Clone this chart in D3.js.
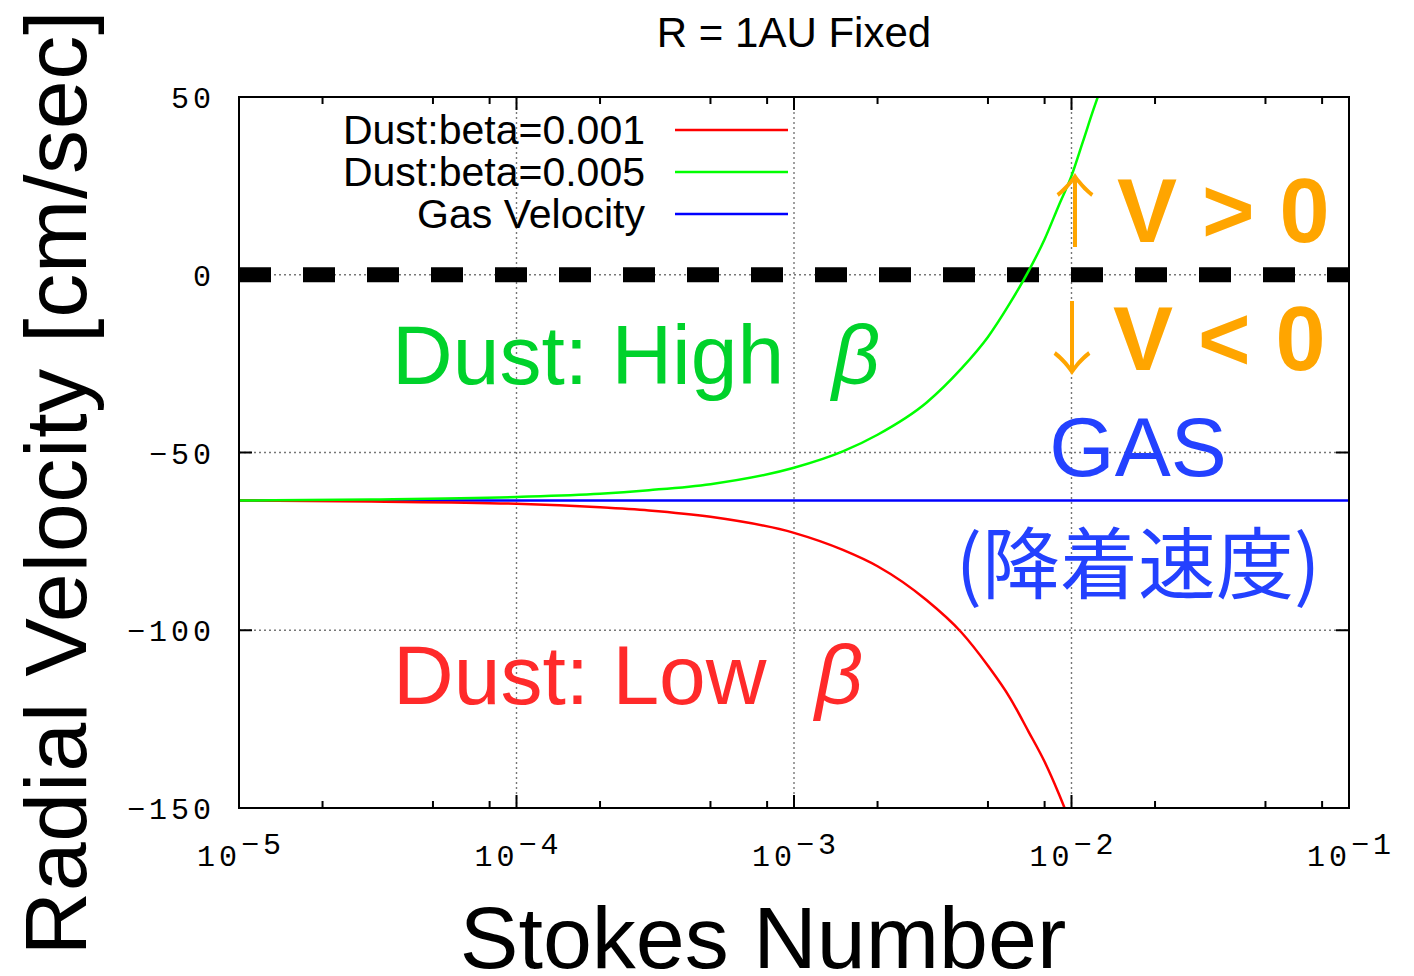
<!DOCTYPE html>
<html>
<head>
<meta charset="utf-8">
<script src="https://cdn.jsdelivr.net/npm/d3@7"></script>
<style>
  body { margin: 0; background: #fff; }
  text { font-family: "Liberation Sans", Arial, sans-serif; }
  .tick-label { font-family: "Liberation Mono", monospace; font-size: 30px; letter-spacing: 4px; fill: #000; }
</style>
</head>
<body>
<div class="chart-box"></div>
<script>
// values (Stokes number vs radial velocity, cm/sec)
var stGreen = [1e-5, 3e-5, 1e-4, 2e-4, 3e-4, 5e-4, 1e-3, 1.5e-3, 2e-3, 3e-3, 4e-3, 5e-3, 6e-3, 7e-3, 8e-3, 9e-3, 1e-2, 1.1e-2, 1.2e-2, 1.25e-2]
var vGreen = [-63.5, -63.2, -62.5, -61.6, -60.6, -58.9, -54.3, -49.7, -45, -36, -26.5, -17.5, -8, 1, 10, 19.5, 27.8, 37.5, 46.5, 50.5]

var stRed = [1e-5, 3e-5, 1e-4, 2e-4, 3e-4, 5e-4, 1e-3, 1.5e-3, 2e-3, 3e-3, 4e-3, 5e-3, 6e-3, 7e-3, 8e-3, 9e-3, 9.5e-3]
var vRed = [-63.5, -63.8, -64.4, -65.4, -66.3, -68.1, -72.6, -77.4, -82, -91.5, -100.5, -110, -119, -128.5, -137, -146, -150.5]

var gasVelocity = -63.5

var xMajor = [1e-5, 1e-4, 1e-3, 1e-2, 1e-1]
var xExponents = ['-5', '-4', '-3', '-2', '-1']
var xMinorMult = [2, 5, 8]
var yTicks = [50, 0, -50, -100, -150]
var yGrid = [0, -50, -100]
var xGrid = [1e-4, 1e-3, 1e-2]

var legendNames = ['Dust:beta=0.001', 'Dust:beta=0.005', 'Gas Velocity']
var legendColors = ['#ff0000', '#00ff00', '#0000ff']

// size of page and plot box (not "top": that one is taken by window.top)
var width = 1414, height = 976
var pLeft = 239, pRight = 1349, pTop = 97, pBottom = 808

var svg = d3.select('div.chart-box')
  .append('svg')
  .attr('width', width)
  .attr('height', height)

var x = d3.scaleLog().domain([1e-5, 1e-1]).range([pLeft, pRight])
var y = d3.scaleLinear().domain([-150, 50]).range([pBottom, pTop])

svg.append('defs').append('clipPath').attr('id', 'clip')
  .append('rect')
  .attr('x', pLeft).attr('y', pTop)
  .attr('width', pRight - pLeft).attr('height', pBottom - pTop)

// dotted grid
var grid = svg.append('g')
  .style('stroke', '#777').style('stroke-width', 1.4).style('stroke-dasharray', '2,3')
grid.selectAll('.gx').data(xGrid).enter().append('line')
  .attr('x1', function (d) { return x(d) }).attr('x2', function (d) { return x(d) })
  .attr('y1', pTop).attr('y2', pBottom)
grid.selectAll('.gy').data(yGrid).enter().append('line')
  .attr('x1', pLeft).attr('x2', pRight)
  .attr('y1', function (d) { return y(d) }).attr('y2', function (d) { return y(d) })

// thick dashed zero line
svg.append('line')
  .attr('x1', pLeft).attr('x2', pRight)
  .attr('y1', y(0)).attr('y2', y(0))
  .style('stroke', '#000').style('stroke-width', 15).style('stroke-dasharray', '32,32')

// minor + major ticks, mirrored top/bottom, left/right
var minors = []
xMajor.slice(0, -1).forEach(function (m) {
  xMinorMult.forEach(function (k) { minors.push(m * k) })
})
var ticks = svg.append('g').style('stroke', '#000').style('stroke-width', 2)
ticks.selectAll('.minb').data(minors).enter().append('line')
  .attr('x1', function (d) { return x(d) }).attr('x2', function (d) { return x(d) })
  .attr('y1', pBottom).attr('y2', pBottom - 7)
ticks.selectAll('.mint').data(minors).enter().append('line')
  .attr('x1', function (d) { return x(d) }).attr('x2', function (d) { return x(d) })
  .attr('y1', pTop).attr('y2', pTop + 7)
ticks.selectAll('.majb').data(xMajor).enter().append('line')
  .attr('x1', function (d) { return x(d) }).attr('x2', function (d) { return x(d) })
  .attr('y1', pBottom).attr('y2', pBottom - 13)
ticks.selectAll('.majt').data(xMajor).enter().append('line')
  .attr('x1', function (d) { return x(d) }).attr('x2', function (d) { return x(d) })
  .attr('y1', pTop).attr('y2', pTop + 13)
ticks.selectAll('.yl').data(yTicks).enter().append('line')
  .attr('x1', pLeft).attr('x2', pLeft + 13)
  .attr('y1', function (d) { return y(d) }).attr('y2', function (d) { return y(d) })
ticks.selectAll('.yr').data(yTicks).enter().append('line')
  .attr('x1', pRight).attr('x2', pRight - 13)
  .attr('y1', function (d) { return y(d) }).attr('y2', function (d) { return y(d) })

// curves
var line = d3.line()
  .x(function (d) { return x(d[0]) })
  .y(function (d) { return y(d[1]) })
  .curve(d3.curveMonotoneX)

var curves = svg.append('g').attr('clip-path', 'url(#clip)')
curves.append('path')
  .datum([[1e-5, gasVelocity], [1e-1, gasVelocity]])
  .attr('d', line).style('fill', 'none').style('stroke', '#0000ff').style('stroke-width', 2.5)
curves.append('path')
  .datum(d3.zip(stRed, vRed))
  .attr('d', line).style('fill', 'none').style('stroke', '#ff0000').style('stroke-width', 2.5)
curves.append('path')
  .datum(d3.zip(stGreen, vGreen))
  .attr('d', line).style('fill', 'none').style('stroke', '#00ff00').style('stroke-width', 2.5)

// border
svg.append('rect')
  .attr('x', pLeft).attr('y', pTop)
  .attr('width', pRight - pLeft).attr('height', pBottom - pTop)
  .style('fill', 'none').style('stroke', '#000').style('stroke-width', 2)

// tick labels
svg.selectAll('.ylab').data(yTicks).enter().append('text')
  .attr('class', 'tick-label')
  .attr('x', 215).attr('y', function (d) { return y(d) + 11 })
  .attr('text-anchor', 'end')
  .text(function (d) { return d < 0 ? '\u2212' + Math.abs(d) : d })

var xl = svg.selectAll('.xlab').data(xMajor).enter().append('text')
  .attr('class', 'tick-label')
  .attr('x', function (d) { return x(d) + 2 }).attr('y', 866)
  .attr('text-anchor', 'middle')
xl.append('tspan').text('10')
xl.append('tspan').attr('dy', -12)
  .text(function (d, i) { return xExponents[i].replace('-', '\u2212') })

// legend
var leg = svg.selectAll('.legenditem').data(legendNames).enter().append('g')
  .attr('transform', function (d, i) { return 'translate(0,' + (130 + i * 42) + ')' })
leg.append('text')
  .attr('x', 645).attr('y', 14)
  .attr('text-anchor', 'end')
  .style('font-size', '41px')
  .text(function (d) { return d })
leg.append('line')
  .attr('x1', 675).attr('x2', 788)
  .style('stroke', function (d, i) { return legendColors[i] }).style('stroke-width', 2.5)

// titles
svg.append('text')
  .attr('x', 794).attr('y', 47)
  .attr('text-anchor', 'middle')
  .style('font-size', '42px')
  .text('R = 1AU Fixed')

svg.append('text')
  .attr('x', 763).attr('y', 968)
  .attr('text-anchor', 'middle')
  .style('font-size', '88px')
  .text('Stokes Number')

svg.append('text')
  .attr('transform', 'translate(86,483) rotate(-90)')
  .attr('text-anchor', 'middle')
  .attr('textLength', 945)
  .style('font-size', '88px')
  .text('Radial Velocity [cm/sec]')

// annotations
var hi = svg.append('text').attr('x', 392).attr('y', 384)
  .style('font-size', '84px').style('fill', '#00d22b')
hi.append('tspan').text('Dust: High')
hi.append('tspan').attr('x', 832).style('font-style', 'italic').text('\u03b2')

var lo = svg.append('text').attr('x', 393).attr('y', 704)
  .style('font-size', '84px').style('fill', '#ff2a2a')
lo.append('tspan').text('Dust: Low')
lo.append('tspan').attr('x', 815).style('font-style', 'italic').text('\u03b2')

svg.append('text').attr('x', 1138).attr('y', 476)
  .attr('text-anchor', 'middle')
  .style('font-size', '84px').style('fill', '#2341ff')
  .text('GAS')

svg.append('text').attr('x', 1138).attr('y', 593)
  .attr('text-anchor', 'middle')
  .style('font-family', '"Noto Sans CJK JP", sans-serif')
  .style('font-size', '78px').style('fill', '#2341ff')
  .text('(降着速度)')

svg.append('text').attr('x', 1075).attr('y', 240)
  .attr('text-anchor', 'middle')
  .style('font-family', '"Noto Sans CJK JP", sans-serif')
  .style('font-size', '80px').style('font-weight', 300).style('fill', '#ffa500')
  .text('\u2191')
svg.append('text').attr('x', 1072).attr('y', 368)
  .attr('text-anchor', 'middle')
  .style('font-family', '"Noto Sans CJK JP", sans-serif')
  .style('font-size', '80px').style('font-weight', 300).style('fill', '#ffa500')
  .text('\u2193')

svg.append('text').attr('x', 1117).attr('y', 242)
  .style('font-size', '90px').style('font-weight', 'bold').style('fill', '#ffa500')
  .text('V > 0')
svg.append('text').attr('x', 1113).attr('y', 370)
  .style('font-size', '90px').style('font-weight', 'bold').style('fill', '#ffa500')
  .text('V < 0')
</script>
</body>
</html>
